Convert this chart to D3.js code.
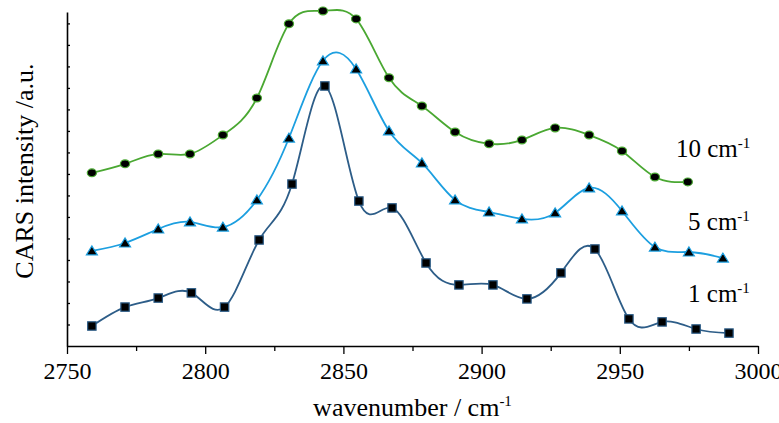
<!DOCTYPE html>
<html>
<head>
<meta charset="utf-8">
<script src="https://cdn.jsdelivr.net/npm/d3@7"></script>
<style>
  body { margin: 0; background: #fff; }
  svg, text { font-family: "Liberation Serif", "Times New Roman", serif; fill: #000; }
</style>
</head>
<body>
<script>
var width = 779;
var height = 423;

// wavenumber / intensity
var x1cm = [2759, 2771, 2783, 2795, 2807, 2819.5, 2831.4, 2843.3, 2855.6, 2867.6, 2879.9, 2891.8, 2904.1, 2916.4, 2928.7, 2941, 2953.3, 2965.3, 2977.6, 2989.5];
var y1cm = [0.93, 1.81, 2.23, 2.47, 1.81, 4.93, 7.53, 12.09, 6.74, 6.42, 3.86, 2.84, 2.84, 2.19, 3.40, 4.51, 1.26, 1.12, 0.79, 0.60];

var x5cm = [2759, 2771, 2783, 2794.5, 2806.4, 2818.7, 2830.3, 2842.6, 2854.6, 2866.5, 2878.4, 2890.4, 2902.7, 2914.6, 2926.6, 2938.9, 2950.8, 2962.7, 2975, 2987.3];
var y5cm = [4.42, 4.79, 5.44, 5.77, 5.53, 6.79, 9.67, 13.26, 12.88, 10.0, 8.51, 6.79, 6.23, 5.91, 6.19, 7.35, 6.28, 4.60, 4.37, 4.09];

var x10cm = [2759, 2771, 2783, 2794.5, 2806.4, 2818.7, 2830.3, 2842.6, 2854.6, 2866.5, 2878.4, 2890.4, 2902.7, 2914.6, 2926.6, 2938.9, 2950.8, 2962.7, 2974.6];
var y10cm = [8.05, 8.47, 8.93, 8.93, 9.81, 11.53, 14.98, 15.58, 15.21, 12.47, 11.16, 9.95, 9.40, 9.58, 10.14, 9.81, 9.07, 7.86, 7.63];

var xMajorTicks = [2750, 2800, 2850, 2900, 2950, 3000];
var xMinorTicks = [2775, 2825, 2875, 2925, 2975];
var yTicks = [1, 2, 3, 4, 5, 6, 7, 8, 9, 10, 11, 12, 13, 14, 15];

var seriesLabels = ["1 cm", "5 cm", "10 cm"];

var series = [
  {name: seriesLabels[0], xs: x1cm, ys: y1cm, color: "#2d5d88", marker: "square", labelAt: [2974.7, 2.06]},
  {name: seriesLabels[1], xs: x5cm, ys: y5cm, color: "#1c9fe0", marker: "triangle", labelAt: [2974.7, 5.39]},
  {name: seriesLabels[2], xs: x10cm, ys: y10cm, color: "#4aa832", marker: "circle", labelAt: [2970.3, 8.79]}
];

var plotLeft = 67, plotRight = 758, plotTop = 12, plotBottom = 346;

var x = d3.scaleLinear().domain([2750, 3000]).range([plotLeft, plotRight]);
var y = d3.scaleLinear().domain([0, 15.53]).range([plotBottom, plotTop]);

var svg = d3.select("body").append("svg")
    .attr("width", width)
    .attr("height", height);

// axes
var xAxis = svg.append("g")
    .attr("transform", "translate(0," + plotBottom + ")")
    .call(d3.axisBottom(x).tickValues(xMajorTicks).tickSize(8).tickPadding(8)
      .tickSizeOuter(0).tickFormat(d3.format("d")));
xAxis.attr("font-family", null).attr("font-size", null);
xAxis.selectAll("text").style("font-size", "24px").style("font-family", "'Liberation Serif', serif");

svg.append("g")
    .attr("transform", "translate(0," + plotBottom + ")")
    .call(d3.axisBottom(x).tickValues(xMinorTicks).tickSize(5).tickFormat("").tickSizeOuter(0))
    .select(".domain").remove();

svg.append("g")
    .attr("transform", "translate(" + plotLeft + ",0)")
    .call(d3.axisLeft(y).tickValues(yTicks).tickSize(-3).tickFormat("").tickSizeOuter(0));

svg.selectAll(".domain").attr("stroke-width", 1.6);
svg.selectAll(".tick line").attr("stroke-width", 1.3);

// curves
var line = d3.line()
    .x(d => x(d[0]))
    .y(d => y(d[1]))
    .curve(d3.curveNatural);

series.forEach(function(s) {
  var pts = s.xs.map((v, i) => [v, s.ys[i]]);

  svg.append("path")
      .datum(pts)
      .attr("fill", "none")
      .attr("stroke", s.color)
      .attr("stroke-width", 1.8)
      .attr("d", line);

  var g = svg.append("g");
  if (s.marker == "square") {
    g.selectAll("rect").data(pts).enter().append("rect")
        .attr("x", d => x(d[0]) - 4.2)
        .attr("y", d => y(d[1]) - 4.2)
        .attr("width", 8.4)
        .attr("height", 8.4);
  } else if (s.marker == "triangle") {
    g.selectAll("path").data(pts).enter().append("path")
        .attr("d", d => {
          var cx = x(d[0]), cy = y(d[1]);
          return "M" + (cx - 5.5) + "," + (cy + 4) + "L" + (cx + 5.5) + "," + (cy + 4) + "L" + cx + "," + (cy - 5) + "Z";
        });
  } else {
    g.selectAll("ellipse").data(pts).enter().append("ellipse")
        .attr("cx", d => x(d[0]))
        .attr("cy", d => y(d[1]))
        .attr("rx", 4.6)
        .attr("ry", 3.9);
  }
  g.selectAll("*")
      .attr("fill", "#000")
      .attr("stroke", s.color)
      .attr("stroke-width", 1.2);

  // curve label with superscript
  var t = svg.append("text")
      .attr("x", x(s.labelAt[0]))
      .attr("y", y(s.labelAt[1]))
      .attr("font-size", "25px")
      .text(s.name);
  t.append("tspan")
      .attr("dy", "-9")
      .attr("font-size", "15px")
      .text("-1");
});

// axis titles
var xt = svg.append("text")
    .attr("x", (plotLeft + plotRight) / 2)
    .attr("y", 416)
    .attr("text-anchor", "middle")
    .attr("font-size", "26px")
    .text("wavenumber / cm");
xt.append("tspan").attr("dy", "-10").attr("font-size", "15px").text("-1");

svg.append("text")
    .attr("transform", "translate(33,171) rotate(-90)")
    .attr("text-anchor", "middle")
    .attr("font-size", "26px")
    .text("CARS intensity /a.u.");
</script>
</body>
</html>
